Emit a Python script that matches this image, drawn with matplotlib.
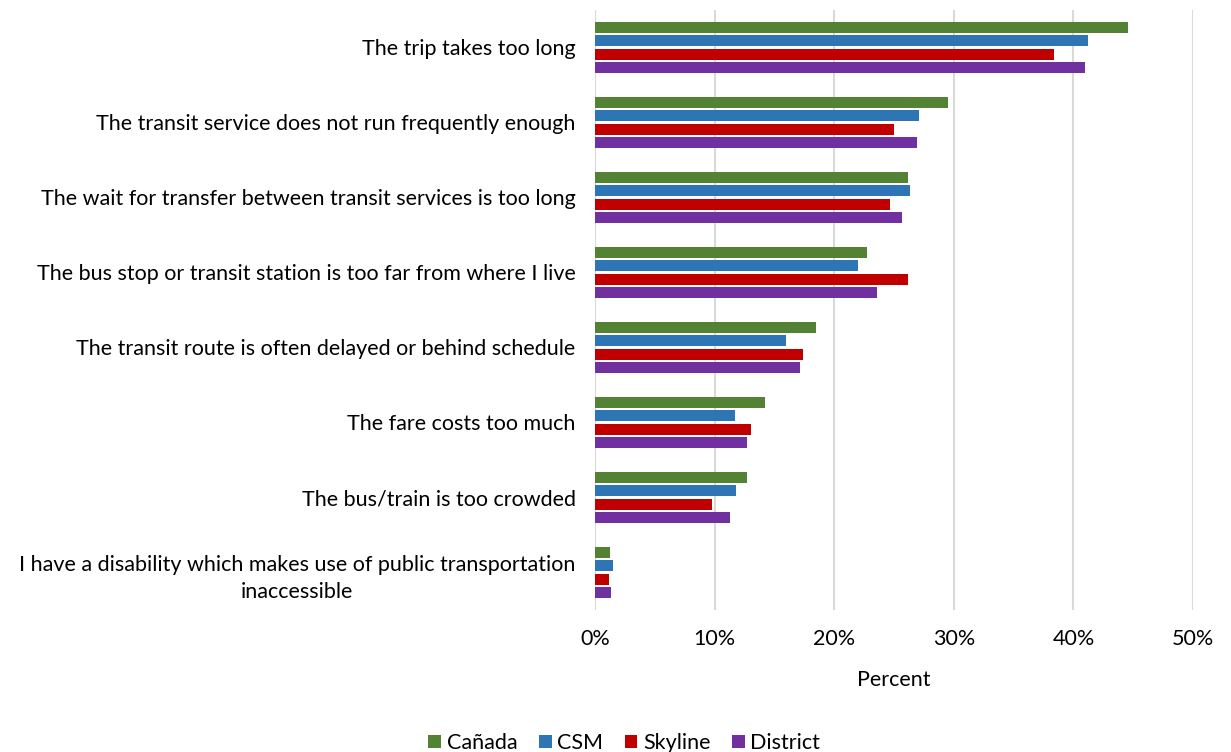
import matplotlib.pyplot as plt
import numpy as np
from matplotlib.ticker import PercentFormatter

plt.rcParams['font.family'] = ['Lato', 'DejaVu Sans']

# categories, top to bottom
reasons = [
    'The trip takes too long',
    'The transit service does not run frequently enough',
    'The wait for transfer between transit services is too long',
    'The bus stop or transit station is too far from where I live',
    'The transit route is often delayed or behind schedule',
    'The fare costs too much',
    'The bus/train is too crowded',
    'I have a disability which makes use of public transportation\ninaccessible',
]

canada = [44.6, 29.5, 26.2, 22.7, 18.5, 14.2, 12.7, 1.25]
csm = [41.2, 27.1, 26.3, 22.0, 16.0, 11.7, 11.8, 1.5]
skyline = [38.4, 25.0, 24.7, 26.2, 17.4, 13.0, 9.8, 1.2]
district = [41.0, 26.9, 25.7, 23.6, 17.1, 12.7, 11.3, 1.3]

series = [('Cañada', canada, '#548235'),
          ('CSM', csm, '#2E75B6'),
          ('Skyline', skyline, '#C00000'),
          ('District', district, '#7030A0')]

fig = plt.figure(figsize=(12.31, 7.52), dpi=100)
ax = fig.add_axes([0.4834, 0.1888, 0.4858, 0.798])

y = np.arange(len(reasons))
slot = 0.18
bar_h = 0.148
for i, (name, vals, col) in enumerate(series):
    ax.barh(y - 1.5 * slot + i * slot, vals, height=bar_h, color=col,
            label=name, zorder=3)

ax.set_ylim(len(reasons) - 0.5, -0.5)
ax.set_xlim(0, 50)
ax.set_xticks(range(0, 51, 10))
ax.xaxis.set_major_formatter(PercentFormatter(decimals=0))
ax.set_yticks(y)
ax.set_yticklabels(reasons, multialignment='center', linespacing=1.45)

ax.grid(axis='x', color='#D9D9D9', lw=1.5, zorder=0)
for s in ax.spines.values():
    s.set_visible(False)
ax.tick_params(axis='both', length=0, labelsize=15.5, colors='black')
ax.tick_params(axis='x', pad=14)
ax.tick_params(axis='y', pad=14)

ax.set_xlabel('Percent', fontsize=15.5, labelpad=15)

fig.legend(loc='lower center', bbox_to_anchor=(0.507, -0.027), ncol=4,
           frameon=False, fontsize=15.5, handlelength=0.6, handleheight=0.6,
           handletextpad=0.25, columnspacing=1.0)

fig.savefig('out.png')
